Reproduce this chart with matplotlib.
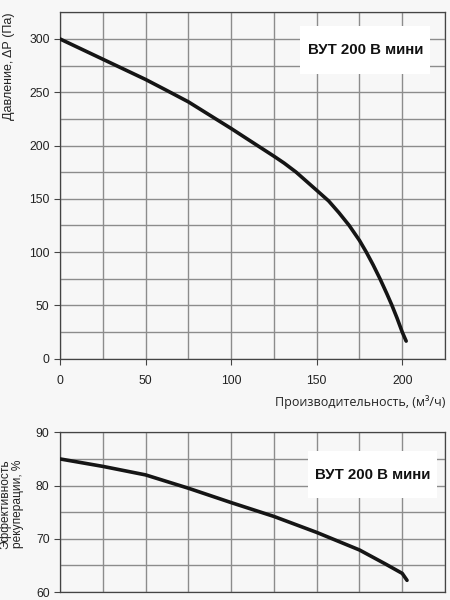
import numpy as np
import matplotlib.pyplot as plt
from matplotlib.patches import Rectangle

# Кривая давления
flow_p = [0, 25, 50, 62, 75, 88, 100, 112, 125, 131, 138, 150, 157, 163, 169, 175,
          179, 183, 187, 191, 194, 197, 200, 202.3]
pressure = [300, 281, 262, 252, 241, 228, 216, 203.5, 190, 183.5, 175, 158, 148, 137,
            125, 111, 100, 88, 75, 61, 50, 38, 25, 16.5]

# Кривая эффективности рекуперации
flow_e = [0, 25, 50, 75, 100, 125, 150, 175, 190, 195, 200, 202.8]
efficiency = [85, 83.6, 82.0, 79.5, 76.8, 74.2, 71.2, 67.9, 65.3, 64.4, 63.5, 62.2]

model = 'ВУТ 200 В мини'
bg = '#f7f7f7'
grid_c = '#8c8c8c'
line_c = '#151515'

plt.rcParams['font.family'] = ['Liberation Sans', 'DejaVu Sans']

fig = plt.figure(figsize=(4.5, 6), dpi=100, facecolor=bg)
ax1 = fig.add_axes([0.1333, 0.4022, 0.8556, 0.5773], facecolor=bg)
ax2 = fig.add_axes([0.1333, 0.0133, 0.8556, 0.2662], facecolor=bg)

for ax in (ax1, ax2):
    ax.set_xlim(0, 225)
    ax.set_xticks(np.arange(0, 226, 25), minor=True)
    ax.grid(True, which='both', color=grid_c, linewidth=1.0)
    for s in ax.spines.values():
        s.set_color('#444444')
        s.set_linewidth(0.9)
    ax.tick_params(axis='both', which='major', length=4, width=0.8, colors='#444444',
                   labelcolor='#222222', labelsize=8.7)
    ax.tick_params(axis='both', which='minor', length=0)
    ax.set_axisbelow(True)

# Верхний график
ax1.set_ylim(0, 325)
ax1.set_xticks([0, 50, 100, 150, 200])
ax1.set_yticks([0, 50, 100, 150, 200, 250, 300])
ax1.set_yticks(np.arange(0, 326, 25), minor=True)
ax1.tick_params(axis='x', which='major', pad=8)
ax1.plot(flow_p, pressure, color=line_c, linewidth=2.6, solid_capstyle='round',
         solid_joinstyle='round', zorder=3)
ax1.set_ylabel('Давление, ΔР (Па)', fontsize=9, color='#222222')
ax1.yaxis.set_label_coords(-0.117, 1.0)
ax1.yaxis.label.set_horizontalalignment('right')
fig.text(445 / 450, 1 - 402 / 600, 'Производительность, (м³/ч)', ha='right', va='center',
         fontsize=9, color='#222222', family=['Open Sans', 'DejaVu Sans'])
ax1.add_patch(Rectangle((140.4, 266.8), 76, 45, facecolor='white', edgecolor='none', zorder=4))
ax1.text(178.4, 289.3, model, ha='center', va='center', fontsize=10.8,
         fontweight='bold', color='#111111', zorder=5)

# Нижний график
ax2.set_ylim(60, 90)
ax2.set_yticks([60, 70, 80, 90])
ax2.set_yticks(np.arange(60, 91, 5), minor=True)
ax2.tick_params(axis='x', which='major', length=0, labelbottom=False)
ax2.set_xticks([])
ax2.plot(flow_e, efficiency, color=line_c, linewidth=2.6, solid_capstyle='round',
         solid_joinstyle='round', zorder=3)
ax2.set_ylabel('Эффективность\nрекуперации, %', fontsize=8.6, color='#222222',
               linespacing=1.0)
ax2.yaxis.set_label_coords(-0.094, 0.55)
ax2.add_patch(Rectangle((145, 77.7), 75.5, 8.7, facecolor='white', edgecolor='none', zorder=4))
ax2.text(182.5, 82.0, model, ha='center', va='center', fontsize=10.8,
         fontweight='bold', color='#111111', zorder=5)

fig.savefig('out.png', dpi=100, facecolor=bg)
